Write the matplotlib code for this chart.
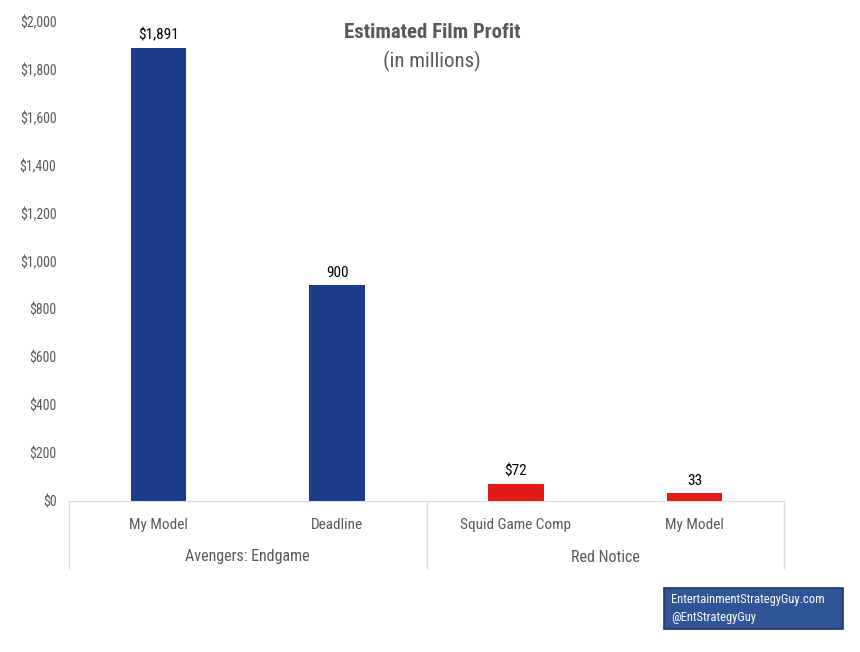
import matplotlib
matplotlib.use("Agg")
import matplotlib.pyplot as plt
import matplotlib.patches as mpatches
from matplotlib.font_manager import fontManager
from matplotlib.ticker import FuncFormatter
import matplotlib.transforms as mtransforms

# data
films = ["Avengers: Endgame", "Red Notice"]
sources = ["My Model", "Deadline", "Squid Game Comp", "My Model"]
film_of_bar = [0, 0, 1, 1]
profit = [1891, 900, 72, 33]
bar_labels = ["$1,891", "900", "$72", "33"]
y_ticks = [0, 200, 400, 600, 800, 1000, 1200, 1400, 1600, 1800, 2000]

film_colors = ["#1a3c8a", "#e31b17"]

# narrow face if there is one, else the narrowest plain sans
names = {f.name for f in fontManager.ttflist}
narrow = "DejaVu Sans"
for cand in ["Liberation Sans Narrow", "Roboto Condensed", "Noto Sans Condensed",
             "Open Sans Condensed", "DejaVu Sans Condensed", "Roboto"]:
    if cand in names:
        narrow = cand
        break
plt.rcParams["font.family"] = [narrow, "DejaVu Sans"]
plt.rcParams["font.stretch"] = "condensed"

grey = "#595959"
fig = plt.figure(figsize=(8.6, 6.52), dpi=100)
ax = fig.add_axes([69 / 860, 1 - 501 / 652, (784 - 69) / 860, 479 / 652])

x = list(range(len(profit)))
colors = [film_colors[g] for g in film_of_bar]
bars = ax.bar(x, profit, width=0.31, color=colors, zorder=2)
for b, lab in zip(bars, bar_labels):
    ax.annotate(lab, (b.get_x() + b.get_width() / 2, b.get_height()),
                xytext=(0, 4), textcoords="offset points",
                ha="center", va="bottom", fontsize=11, color="black")

ax.set_xlim(-0.5, len(profit) - 0.5)
ax.set_ylim(0, 2000)
ax.set_yticks(y_ticks)
ax.yaxis.set_major_formatter(FuncFormatter(lambda v, p: f"${v:,.0f}"))
ax.tick_params(axis="y", length=0, labelsize=10, labelcolor=grey, pad=9)
ax.set_xticks(x)
ax.set_xticklabels(sources)
ax.tick_params(axis="x", length=0, labelsize=11, labelcolor=grey, pad=12)

for s in ["top", "right", "left"]:
    ax.spines[s].set_visible(False)
ax.spines["bottom"].set_color("#d9d9d9")

# group separators and labels below the axis
trans = mtransforms.blended_transform_factory(ax.transData, ax.transAxes)
depth = -(568 - 501) / 479
for xs in [-0.5, 1.5, 3.5]:
    ax.plot([xs, xs], [0, depth], transform=trans, color="#d9d9d9",
            lw=1, clip_on=False)
for g, name in enumerate(films):
    idx = [i for i, f in enumerate(film_of_bar) if f == g]
    cx = sum(idx) / len(idx)
    ax.text(cx, -(557 - 501) / 479, name, transform=trans, ha="center",
            va="center", fontsize=11.5, color=grey)

fig.text(432 / 860, 1 - 33 / 652, "Estimated Film Profit", ha="center",
         va="center", fontsize=15, color=grey, fontweight="bold")
fig.text(432 / 860, 1 - 61 / 652, "(in millions)", ha="center",
         va="center", fontsize=15, color=grey)

# watermark box
fig.patches.append(mpatches.Rectangle((664 / 860, 1 - 629 / 652), 179 / 860, 41 / 652,
                                      transform=fig.transFigure, fc="#2f5597",
                                      ec="#1f3864", lw=1.2))
fig.text(671 / 860, 1 - 600 / 652, "EntertainmentStrategyGuy.com", ha="left",
         va="center", fontsize=9, color="white")
fig.text(671 / 860, 1 - 617 / 652, "@EntStrategyGuy", ha="left",
         va="center", fontsize=9, color="white")

fig.savefig("out.png", dpi=100)
